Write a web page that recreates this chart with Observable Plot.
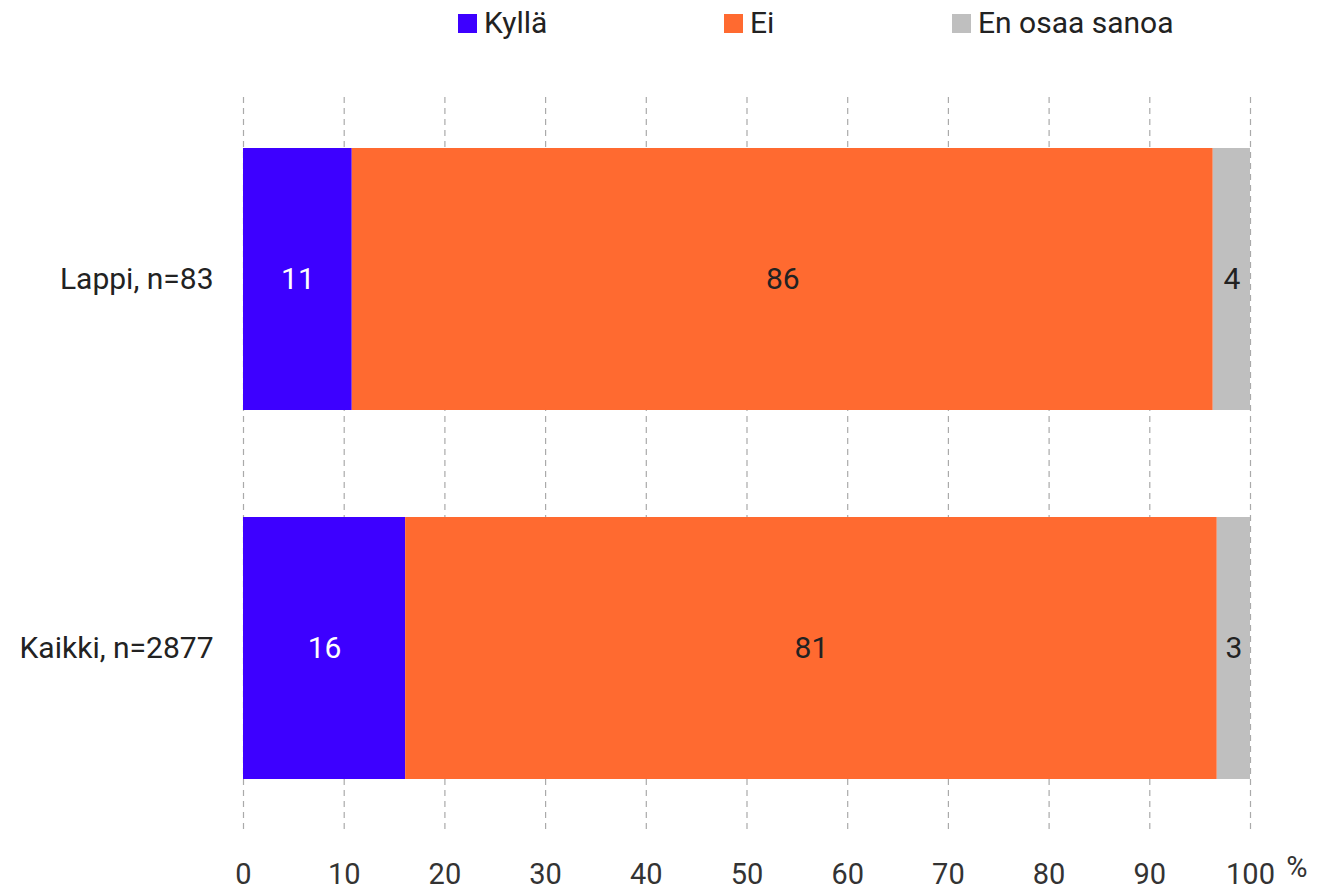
<!DOCTYPE html>
<html>
<head>
<meta charset="utf-8">
<script src="https://cdn.jsdelivr.net/npm/d3@7"></script>
<script src="https://cdn.jsdelivr.net/npm/@observablehq/plot@0.6"></script>
<style>
  html, body { margin: 0; padding: 0; background: #fff; }
  body { width: 1317px; height: 891px; position: relative; overflow: hidden; font-family: Roboto, "Noto Sans", sans-serif; }
  #legend { position: relative; height: 50px; width: 1317px; }
  .item { position: absolute; top: 5px; display: flex; align-items: center; font-size: 30px; color: #222; line-height: 36px; }
  .sw { width: 19px; height: 19px; margin-right: 7px; display: inline-block; }
  #chart svg { display: block; overflow: visible; }
</style>
</head>
<body>
<div id="legend"></div>
<div id="chart"></div>
<script>
const groups = ["Lappi, n=83", "Kaikki, n=2877"];
const categories = ["Kyllä", "Ei", "En osaa sanoa"];
const colors = ["#3d00ff", "#ff6a30", "#bfbfbf"];
const labelColors = ["#ffffff", "#222222", "#222222"];
const kylla = [10.8, 16.1];
const ei = [85.5, 80.6];
const eos = [3.7, 3.3];
const xTicks = [0, 10, 20, 30, 40, 50, 60, 70, 80, 90, 100];
const legendX = [458, 724, 952];

const series = [kylla, ei, eos];
const data = [];
groups.forEach((g, gi) => {
  categories.forEach((c, ci) => {
    data.push({group: g, category: c, value: series[ci][gi], label: String(Math.round(series[ci][gi]))});
  });
});

// legend
const legend = document.getElementById("legend");
categories.forEach((c, i) => {
  const d = document.createElement("div");
  d.className = "item";
  d.style.left = legendX[i] + "px";
  d.innerHTML = `<span class="sw" style="background:${colors[i]}"></span><span>${c}</span>`;
  legend.appendChild(d);
});

const textMarks = categories.map((c, ci) =>
  Plot.text(data, Plot.stackX({
    x: "value", y: "group", z: "category", order: categories,
    text: d => d.category === c ? d.label : "",
    fill: labelColors[ci], fontSize: 30
  }))
);

const chart = Plot.plot({
  width: 1317,
  height: 841,
  marginLeft: 243,
  marginRight: 67,
  marginTop: 47,
  marginBottom: 61,
  style: {fontFamily: "Roboto, 'Noto Sans', sans-serif", background: "#fff"},
  x: {domain: [0, 100], axis: null},
  y: {domain: groups, paddingInner: 0.29, paddingOuter: 0.138, axis: null},
  color: {domain: categories, range: colors},
  marks: [
    Plot.ruleX(xTicks, {stroke: "#aaaaaa", strokeWidth: 1.2, strokeDasharray: "6,5"}),
    Plot.barX(data, Plot.stackX({x: "value", y: "group", fill: "category", order: categories, inset: 0})),
    ...textMarks,
    Plot.axisY({tickSize: 0, tickPadding: 30, fontSize: 30, label: null, fill: "#222"}),
    Plot.axisX({ticks: xTicks, tickSize: 0, tickPadding: 0, dy: 33, fontSize: 29, label: null, fill: "#333", anchor: "bottom"}),
    Plot.text(["%"], {frameAnchor: "bottom-right", dx: 57, dy: 46, fontSize: 29, fill: "#333", text: d => d})
  ]
});
document.getElementById("chart").appendChild(chart);
</script>
</body>
</html>
